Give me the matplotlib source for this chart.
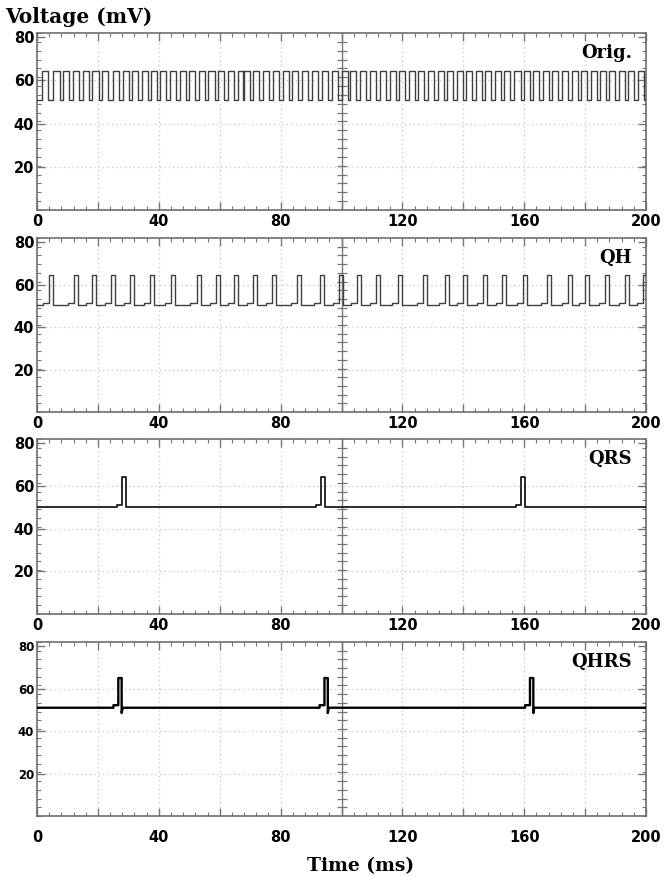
import matplotlib
matplotlib.use('Agg')
import matplotlib.pyplot as plt
from matplotlib.ticker import MultipleLocator, FixedLocator, FixedFormatter

# rising edges (ms)
orig_rise = [1.7, 5.4, 8.6, 11.7, 15.0, 18.2, 21.2, 24.9, 28.1, 31.1, 34.4, 37.4,
             40.4, 43.7, 47.0, 49.9, 53.3, 56.3, 59.3, 62.6, 65.9, 67.8, 71.0,
             74.1, 77.4, 80.7, 83.6, 86.9, 90.2, 93.5, 96.8, 100.1, 102.8, 106.1,
             109.4, 112.6, 115.9, 119.0, 122.3, 125.2, 128.5, 131.8, 134.5,
             137.8, 140.9, 144.2, 147.1, 150.4, 153.5, 156.8, 159.9, 163.0,
             166.1, 169.2, 172.3, 175.6, 178.7, 181.9, 184.9, 187.9, 191.2,
             194.2, 197.3]
orig_width = 2.0
orig_low, orig_high = 51.0, 64.5

qh_rise = [3.9, 12.3, 18.2, 24.3, 30.5, 37.1, 44.0, 52.4, 58.8, 64.8, 71.0, 77.3,
           85.3, 92.9, 99.2, 105.2, 111.3, 118.7, 126.7, 134.0, 139.8, 146.4,
           152.6, 159.5, 167.4, 174.3, 180.0, 186.5, 193.1, 199.0]
qh_width = 1.3
qh_low, qh_high = 50.5, 64.5

qrs_rise = [28.0, 93.3, 159.0]
qrs_width = 1.2
qrs_low, qrs_high = 50.0, 64.0

qhrs_rise = [26.7, 94.4, 161.9]
qhrs_width = 1.1
qhrs_low, qhrs_high = 51.0, 65.0

panel_names = ['Orig.', 'QH', 'QRS', 'QHRS']
x_ticks = [0, 20, 40, 60, 80, 100, 120, 140, 160, 180, 200]
x_labels = ['0', '', '40', '', '80', '', '120', '', '160', '', '200']
y_ticks = [20, 40, 60, 80]
y_labels = ['20', '40', '60', '80']


def pulse_trace(rises, width, low, high, foot=0.0, foot_len=0.0, under=0.0):
    xs = [0.0]
    ys = [low]
    for r in rises:
        if foot:
            xs += [r - foot_len, r - foot_len]
            ys += [low, low + foot]
            base = low + foot
        else:
            base = low
        xs += [r, r, r + width, r + width]
        ys += [base, high, high, low - under]
        if under:
            xs += [r + width + 0.3]
            ys += [low]
    xs.append(200.0)
    ys.append(low)
    return xs, ys


traces = [
    pulse_trace(orig_rise, orig_width, orig_low, orig_high),
    pulse_trace(qh_rise, qh_width, qh_low, qh_high, foot=0.8, foot_len=2.0),
    pulse_trace(qrs_rise, qrs_width, qrs_low, qrs_high, foot=1.2, foot_len=1.6),
    pulse_trace(qhrs_rise, qhrs_width, qhrs_low, qhrs_high, foot=1.2,
                foot_len=1.6, under=2.5),
]
line_styles = [('#404040', 1.0), ('#404040', 1.0), ('#1a1a1a', 1.3), ('#000000', 1.7)]

fig = plt.figure(figsize=(6.67, 8.77), dpi=100)
boxes = [(0.0555, 0.7606, 0.913, 0.2018),
         (0.0555, 0.5302, 0.913, 0.1984),
         (0.0555, 0.2999, 0.913, 0.1995),
         (0.0555, 0.0696, 0.913, 0.1984)]

for i, box in enumerate(boxes):
    ax = fig.add_axes(box)
    ax.set_xlim(0, 200)
    ax.set_ylim(0, 82)
    # dotted scope grid
    for gx in range(20, 200, 20):
        if gx != 100:
            ax.axvline(gx, color='#c4c4c4', lw=0.9, ls=(0, (1, 2.5)), zorder=0)
    for gy in (20, 40, 60):
        ax.axhline(gy, color='#c4c4c4', lw=0.9, ls=(0, (1, 2.5)), zorder=0)
    # centre line with its own ticks
    ax.axvline(100, color='#777777', lw=1.0, zorder=1)
    cy = [k * 4.1 for k in range(1, 20)]
    ax.plot([100] * len(cy), cy, ls='none', marker='_', ms=7, mew=0.9,
            color='#777777', zorder=1)

    xs, ys = traces[i]
    col, lw = line_styles[i]
    ax.plot(xs, ys, color=col, lw=lw, zorder=3)

    ax.xaxis.set_major_locator(FixedLocator(x_ticks))
    ax.xaxis.set_major_formatter(FixedFormatter(x_labels))
    ax.xaxis.set_minor_locator(MultipleLocator(4))
    ax.yaxis.set_major_locator(FixedLocator(y_ticks))
    ax.yaxis.set_major_formatter(FixedFormatter(y_labels))
    ax.yaxis.set_minor_locator(MultipleLocator(4.1))
    ax.tick_params(which='both', direction='in', top=True, right=True,
                   color='#777777')
    ax.tick_params(which='major', length=6, width=1.0)
    ax.tick_params(which='minor', length=3, width=0.8)
    ysize = 8.5 if i == 3 else 10.5
    ax.tick_params(axis='y', labelsize=ysize, pad=2)
    ax.tick_params(axis='x', labelsize=10.5, pad=3 if i < 3 else 10)
    for lab in ax.get_xticklabels() + ax.get_yticklabels():
        lab.set_fontweight('bold')
    for sp in ax.spines.values():
        sp.set_color('#6e6e6e')
        sp.set_linewidth(1.2)

    ax.text(0.977, 0.885, panel_names[i], transform=ax.transAxes,
            ha='right', va='center', family='DejaVu Serif',
            fontweight='bold', fontsize=13)

fig.text(0.007, 0.981, 'Voltage (mV)', ha='left', va='center',
         family='DejaVu Serif', fontweight='bold', fontsize=14.5)
fig.text(0.54, 0.013, 'Time (ms)', ha='center', va='center',
         family='DejaVu Serif', fontweight='bold', fontsize=13.5)

fig.savefig('out.png', dpi=100)
